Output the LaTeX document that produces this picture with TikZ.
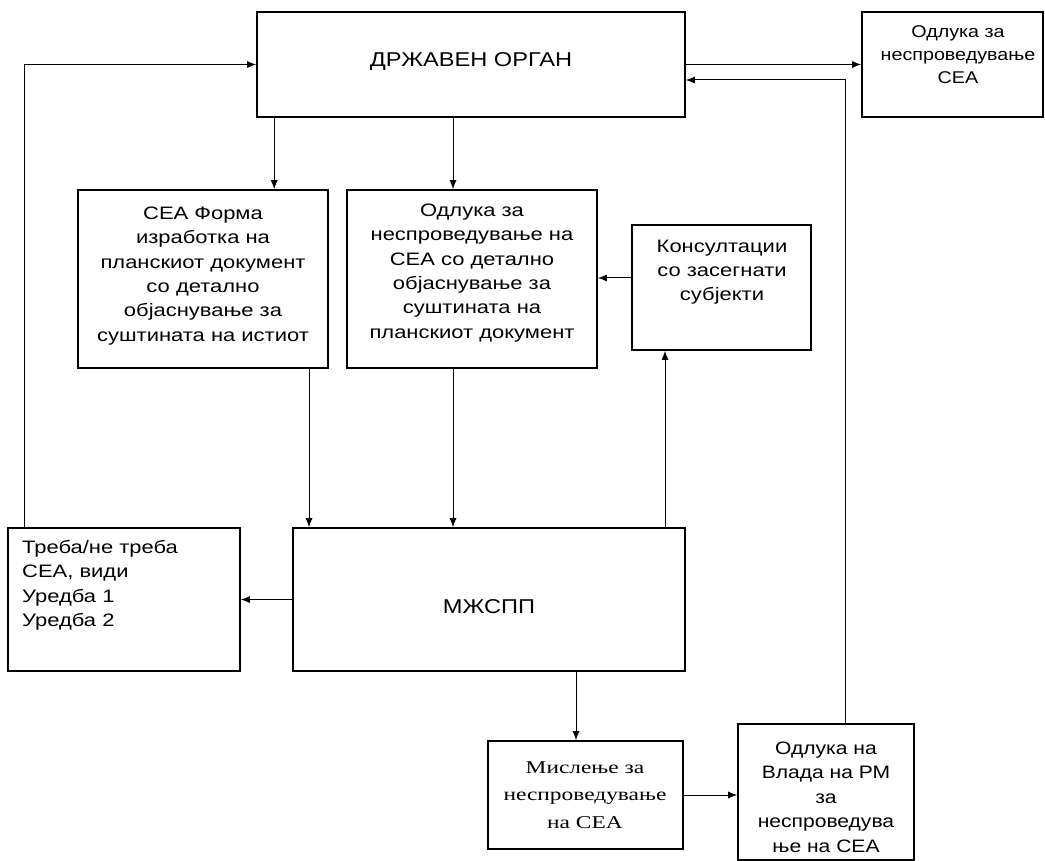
\documentclass[tikz,border=0pt]{standalone}
\usepackage{fontspec}
\setmainfont{Liberation Sans}
\newfontfamily\bodyf[FakeStretch=1.22]{Liberation Sans}
\newfontfamily\titlef[FakeStretch=1.18]{Liberation Sans}
\newfontfamily\smallf[FakeStretch=1.16]{Liberation Sans}
\newfontfamily\vladaf[FakeStretch=1.17]{Liberation Sans}
\newfontfamily\seriff[FakeStretch=1.3]{Liberation Serif}
\usetikzlibrary{arrows.meta}
\tikzset{
  box/.style={draw, line width=1.6pt, inner sep=0pt, anchor=center},
  txt/.style={inner sep=0pt, align=center, font=\bodyf\fontsize{18}{24.3}\selectfont},
  arr/.style={line width=1pt, -{Latex[length=9pt,width=7pt]}},
}
\begin{document}
\begin{tikzpicture}[x=1pt,y=-1pt]
\useasboundingbox (0,0) rectangle (1045,861);
% boxes
\node[box, minimum width=428pt, minimum height=105pt] (org) at (471,64.5) {};
\node[box, minimum width=181pt, minimum height=105pt] (odl1) at (952.5,64.5) {};
\node[box, minimum width=250pt, minimum height=178pt] (cea) at (203,279) {};
\node[box, minimum width=250pt, minimum height=178pt] (odl2) at (472,279) {};
\node[box, minimum width=179pt, minimum height=125pt] (kons) at (721.5,287.5) {};
\node[box, minimum width=232pt, minimum height=143pt] (treba) at (124,599.5) {};
\node[box, minimum width=392pt, minimum height=143pt] (mzh) at (489,599.5) {};
\node[box, minimum width=195pt, minimum height=108pt] (misl) at (585.5,795) {};
\node[box, minimum width=176pt, minimum height=136pt] (vlada) at (826,792) {};
% texts
\node[txt, font=\titlef\fontsize{20}{24}\selectfont] (torg) at (471,62) {ДРЖАВЕН ОРГАН};
\node[txt, font=\smallf\fontsize{17}{23}\selectfont] (todl1) at (958,55) {Одлука за\\неспроведување\\СЕА};
\node[txt] (tcea) at (203,276) {СЕА Форма\\изработка на\\планскиот документ\\со детално\\објаснување за\\суштината на истиот};
\node[txt] (todl2) at (472,273) {Одлука за\\неспроведување на\\СЕА со детално\\објаснување за\\суштината на\\планскиот документ};
\node[txt] (tkons) at (722,272) {Консултации\\со засегнати\\субјекти};
\node[txt, align=left, anchor=north west] (ttreba) at (22,540) {Треба/не треба\\СЕА, види\\Уредба 1\\Уредба 2};
\node[txt, font=\titlef\fontsize{20}{24}\selectfont] (tmzh) at (489,607) {МЖСПП};
\node[txt, font=\seriff\fontsize{18}{27.5}\selectfont] (tmisl) at (585,795) {Мислење за\\неспроведување\\на СЕА};
\node[txt, font=\vladaf\fontsize{18}{24.5}\selectfont] (tvlada) at (826,797) {Одлука на\\Влада на РМ\\за\\неспроведува\\ње на СЕА};
% connectors
\draw[arr] ([xshift=17pt]treba.north west) |- (org.west);
\draw[arr] (org.east) -- (odl1.west);
\draw[arr] ([xshift=19pt]vlada.north) |- ([yshift=-15.5pt]org.east);
\draw[arr] ([xshift=18pt]org.south west) -- ([xshift=18pt]org.south west |- cea.north);
\draw[arr] ([xshift=-19pt]odl2.north |- org.south) -- ([xshift=-19pt]odl2.north);
\draw[arr] ([yshift=9.5pt]kons.west) -- ([yshift=9.5pt]kons.west -| odl2.east);
\draw[arr] ([xshift=-56.5pt]kons.south |- mzh.north) -- ([xshift=-56.5pt]kons.south);
\draw[arr] ([xshift=106pt]cea.south) -- ([xshift=106pt]cea.south |- mzh.north);
\draw[arr] ([xshift=-19pt]odl2.south) -- ([xshift=-19pt]odl2.south |- mzh.north);
\draw[arr] (mzh.west) -- (mzh.west -| treba.east);
\draw[arr] ([xshift=-9.5pt]misl.north |- mzh.south) -- ([xshift=-9.5pt]misl.north);
\draw[arr] (misl.east) -- (misl.east -| vlada.west);
\end{tikzpicture}
\end{document}
